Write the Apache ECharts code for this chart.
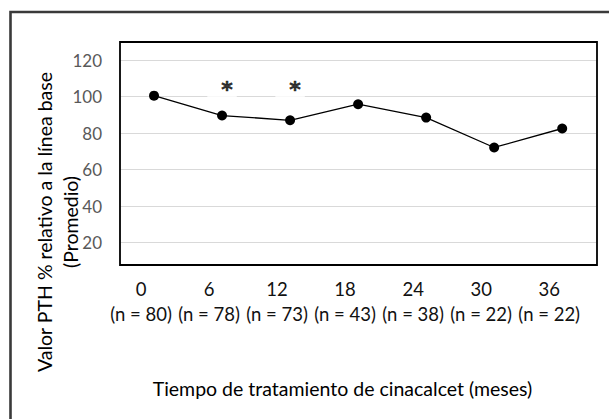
<!DOCTYPE html>
<html>
<head>
<meta charset="utf-8">
<script src="https://cdn.jsdelivr.net/npm/echarts@6/dist/echarts.min.js"></script>
<style>
  html, body { margin: 0; padding: 0; background: #fff; }
  #chart { width: 609px; height: 419px; }
</style>
</head>
<body>
<div id="chart"></div>
<script>
// ---- data ----
const months = ['0', '6', '12', '18', '24', '30', '36'];
const nValues = [80, 78, 73, 43, 38, 22, 22];
const pthPercent = [100.6, 89.7, 87.1, 95.9, 88.6, 72.2, 82.6];
const significance = ['', '*', '*', '', '', '', ''];
const significanceLevel = 104;
const yTickLabels = [20, 40, 60, 80, 100, 120];
const yTitle = 'Valor PTH % relativo a la línea base\n(Promedio)';
const xTitle = 'Tiempo de tratamiento de cinacalcet (meses)';

const FONT = 'Lato, "Open Sans", sans-serif';

const categories = months.map((m, i) => m + '\n(n = ' + nValues[i] + ')');
const starData = [];
significance.forEach((s, i) => { if (s) starData.push([i, significanceLevel]); });

const chart = echarts.init(document.getElementById('chart'), null, { renderer: 'svg' });
chart.setOption({
  backgroundColor: '#ffffff',
  animation: false,
  grid: { left: 120, top: 42, right: 12, bottom: 154, containLabel: false },
  xAxis: {
    type: 'category',
    data: categories,
    boundaryGap: true,
    axisLine: { show: false },
    axisTick: { show: false },
    splitLine: { show: false },
    axisLabel: {
      interval: 0,
      margin: 11,
      color: '#111111',
      fontFamily: FONT,
      fontSize: 18.5,
      lineHeight: 25,
      padding: [0, 26, 0, 0]
    }
  },
  yAxis: {
    type: 'value',
    min: 7.8,
    max: 130,
    splitNumber: 6,
    axisLine: { show: false },
    axisTick: { show: false },
    splitLine: { show: true, lineStyle: { color: '#d9d9d9', width: 1 } },
    axisLabel: {
      showMinLabel: false,
      showMaxLabel: false,
      margin: 18,
      color: '#595959',
      fontFamily: FONT,
      fontSize: 17,
      formatter: v => (yTickLabels.indexOf(v) >= 0 ? String(v) : '')
    }
  },
  series: [
    {
      type: 'line',
      data: pthPercent,
      symbol: 'circle',
      symbolSize: 10,
      itemStyle: { color: '#000000' },
      lineStyle: { color: '#000000', width: 1.3 },
      z: 3
    },
    {
      type: 'scatter',
      data: starData,
      symbolSize: 1,
      itemStyle: { color: 'rgba(255,255,255,0)' },
      silent: true,
      z: 4,
      label: {
        show: true,
        position: 'inside',
        formatter: p => significance[p.data[0]],
        fontFamily: '"DejaVu Sans", sans-serif',
        fontWeight: 'bold',
        fontSize: 22,
        lineHeight: 20,
        color: '#000000',
        textBorderColor: '#000000',
        textBorderWidth: 0.6,
        backgroundColor: '#ffffff',
        padding: [3, 4, 3, 14]
      }
    }
  ],
  graphic: [
    {
      type: 'rect',
      z: 100,
      silent: true,
      shape: { x: 120, y: 42, width: 477, height: 223 },
      style: { fill: 'none', stroke: '#000000', lineWidth: 1.8 }
    },
    {
      type: 'rect',
      z: 100,
      silent: true,
      shape: { x: 10.5, y: 12, width: 660, height: 460 },
      style: { fill: 'none', stroke: '#3a3a3a', lineWidth: 2.6 }
    },
    {
      type: 'text',
      z: 100,
      x: 57,
      y: 222,
      rotation: Math.PI / 2,
      style: {
        text: yTitle,
        fill: '#000000',
        font: '19.5px ' + FONT,
        lineHeight: 26,
        textAlign: 'center',
        textVerticalAlign: 'middle'
      }
    },
    {
      type: 'text',
      z: 100,
      x: 342.5,
      y: 388,
      style: {
        text: xTitle,
        fill: '#000000',
        font: '19.5px ' + FONT,
        textAlign: 'center',
        textVerticalAlign: 'middle'
      }
    }
  ]
});
</script>
</body>
</html>
